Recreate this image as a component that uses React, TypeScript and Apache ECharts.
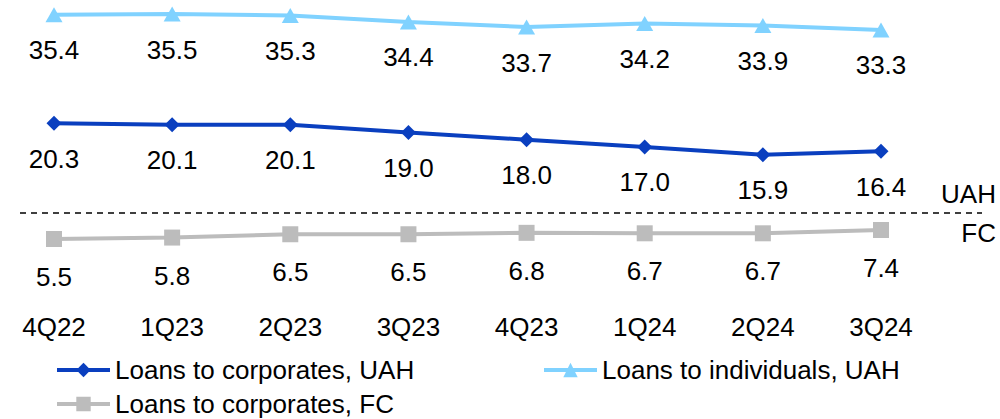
import React, { useEffect, useRef } from "react";
import * as echarts from "echarts";

const categories = ["4Q22", "1Q23", "2Q23", "3Q23", "4Q23", "1Q24", "2Q24", "3Q24"];
const corpUAH = [20.3, 20.1, 20.1, 19.0, 18.0, 17.0, 15.9, 16.4];
const indivUAH = [35.4, 35.5, 35.3, 34.4, 33.7, 34.2, 33.9, 33.3];
const corpFC = [5.5, 5.8, 6.5, 6.5, 6.8, 6.7, 6.7, 7.4];

const seriesNames = ["Loans to corporates, UAH", "Loans to individuals, UAH", "Loans to corporates, FC"];
const FONT = "'Liberation Sans', Arial, sans-serif";

export default function App() {
  const ref = useRef<HTMLDivElement>(null);
  useEffect(() => {
    if (!ref.current) return;
    const chart = echarts.init(ref.current, null, { renderer: "svg" });
    const label = (dist: number) => ({
      show: true,
      position: "bottom",
      distance: dist,
      color: "#000",
      fontFamily: FONT,
      fontSize: 26,
      lineHeight: 26,
      formatter: (p: any) => Number(p.value).toFixed(1),
    });
    const legendText = { color: "#000", fontFamily: FONT, fontSize: 26, lineHeight: 26 };
    const legendBase = {
      itemWidth: 53,
      itemHeight: 18,
      itemGap: 5,
      padding: 0,
      lineStyle: { width: 4 },
      textStyle: legendText,
    };
    chart.setOption({
      animation: false,
      textStyle: { fontFamily: FONT },
      grid: { left: 54, right: 119, top: 10.5, bottom: 150, containLabel: false },
      xAxis: {
        type: "category",
        data: categories,
        boundaryGap: false,
        axisLine: { show: false },
        axisTick: { show: false },
        splitLine: { show: false },
        axisLabel: { color: "#000", fontFamily: FONT, fontSize: 26, lineHeight: 26, margin: 45 },
      },
      yAxis: [
        { type: "value", min: 0, max: 36, show: false, splitLine: { show: false } },
        { type: "value", min: -0.83, max: 53.7, show: false, splitLine: { show: false } },
      ],
      legend: [
        { ...legendBase, data: [seriesNames[0]], left: 55, top: 357 },
        { ...legendBase, data: [seriesNames[1]], left: 542, top: 357 },
        { ...legendBase, data: [seriesNames[2]], left: 55, top: 391 },
      ],
      graphic: [
        {
          type: "line",
          shape: { x1: 20, y1: 213, x2: 982, y2: 213 },
          style: { stroke: "#000", lineWidth: 1.7, lineDash: [6, 5] },
        },
        {
          type: "text",
          x: 996, y: 194,
          style: { text: "UAH", fill: "#000", font: `26px ${FONT}`, align: "right", verticalAlign: "middle" },
        },
        {
          type: "text",
          x: 996, y: 233,
          style: { text: "FC", fill: "#000", font: `26px ${FONT}`, align: "right", verticalAlign: "middle" },
        },
      ],
      series: [
        {
          name: seriesNames[0],
          type: "line",
          data: corpUAH,
          yAxisIndex: 0,
          symbol: "diamond",
          symbolSize: [15, 15],
          lineStyle: { color: "#0a3fbf", width: 4 },
          itemStyle: { color: "#0a3fbf" },
          label: label(15),
        },
        {
          name: seriesNames[1],
          type: "line",
          data: indivUAH,
          yAxisIndex: 0,
          symbol: "triangle",
          symbolSize: [17, 15],
          lineStyle: { color: "#80d2ff", width: 4 },
          itemStyle: { color: "#80d2ff" },
          label: label(15),
        },
        {
          name: seriesNames[2],
          type: "line",
          data: corpFC,
          yAxisIndex: 1,
          symbol: "rect",
          symbolSize: [16, 16],
          lineStyle: { color: "#bcbcbc", width: 4 },
          itemStyle: { color: "#bcbcbc" },
          label: label(17),
        },
      ],
    });
    return () => chart.dispose();
  }, []);
  return (
    <div
      ref={ref}
      style={{ position: "absolute", left: 0, top: 0, width: 1000, height: 419, background: "#fff" }}
    />
  );
}
